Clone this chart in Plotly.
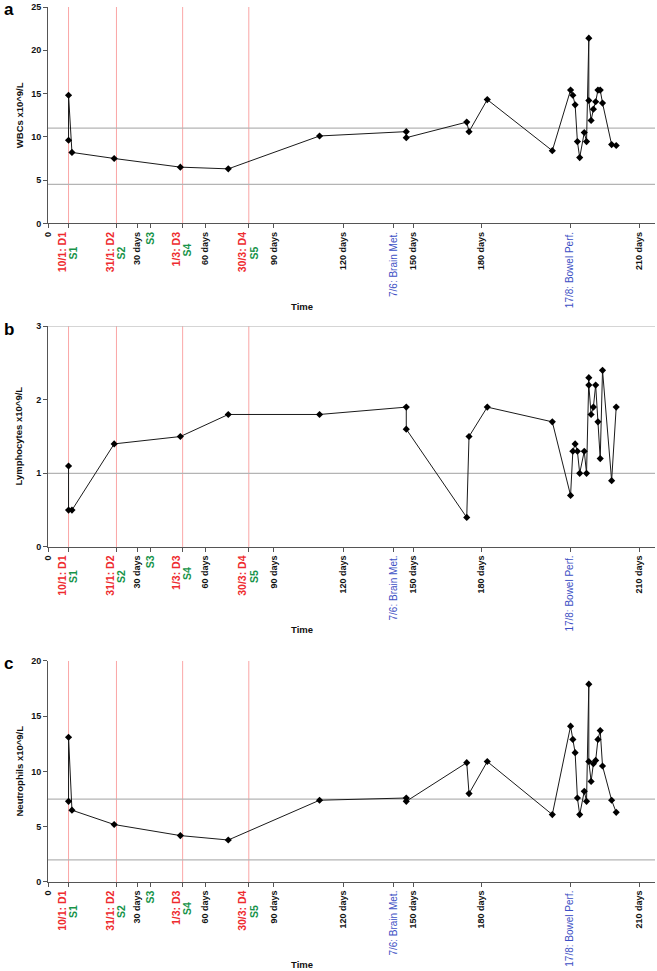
import plotly.graph_objects as go

# ---------------- data ----------------
DAYS = [9, 9, 10.5, 29, 58, 79, 119, 157, 157, 183.5, 184.5, 192.5, 221,
        229, 230, 231, 232, 233, 235, 236, 237, 237, 238, 239, 240, 241, 242, 243, 247, 249]
WBC = [9.6, 14.8, 8.2, 7.5, 6.5, 6.3, 10.1, 10.6, 9.9, 11.7, 10.6, 14.3, 8.4,
       15.4, 14.8, 13.7, 9.45, 7.6, 10.5, 9.45, 21.4, 14.2, 11.9, 13.2, 14.05, 15.4, 15.4, 13.9, 9.1, 9.0]
LYM = [1.1, 0.5, 0.5, 1.4, 1.5, 1.8, 1.8, 1.9, 1.6, 0.4, 1.5, 1.9, 1.7,
       0.7, 1.3, 1.4, 1.3, 1.0, 1.3, 1.0, 2.3, 2.2, 1.8, 1.9, 2.2, 1.7, 1.2, 2.4, 0.9, 1.9]
NEU = [7.3, 13.1, 6.5, 5.2, 4.2, 3.8, 7.4, 7.6, 7.3, 10.8, 8.0, 10.9, 6.1,
       14.1, 12.9, 11.7, 7.6, 6.1, 8.2, 7.3, 17.9, 10.9, 9.1, 10.7, 11.0, 12.9, 13.7, 10.5, 7.4, 6.3]

WBC_REF = [4.5, 11]
LYM_REF = [1, 3]
NEU_REF = [2, 7.5]

DOSE_DAYS = [9, 30, 59, 88]
DOSE_LABELS = ["10/1: D1", "31/1: D2", "1/3: D3", "30/3: D4"]
SCAN_DAYS = [9, 30, 45, 59, 88]
SCAN_LABELS = ["S1", "S2", "S3", "S4", "S5"]
DAYMARK_POS = [0, 39, 69, 99, 129.5, 160, 190, 259]
DAYMARK_LABELS = ["0", "30 days", "60 days", "90 days", "120 days", "150 days", "180 days", "210 days"]
EVENT_DAYS = [151.5, 229]
EVENT_LABELS = ["7/6: Brain Met.", "17/8: Bowel Perf."]

PANELS = ["a", "b", "c"]
YTITLES = ["WBCs x10^9/L", "Lymphocytes x10^9/L", "Neutrophils x10^9/L"]
YRANGES = [[0, 25], [0, 3], [0, 20]]
YTICKS = [[0, 5, 10, 15, 20, 25], [0, 1, 2, 3], [0, 5, 10, 15, 20]]

# ---------------- styling ----------------
FONT = "Liberation Sans, Arial, sans-serif"
RED = "#ee2b2f"
GREEN = "#17934a"
BLUE = "#3c4fc4"
W, H = 657, 971
ML, MR, MT, MB = 48, 2, 5, 89
DOMAINS = [[0.7527, 1.0], [0.3830, 0.6352], [0.0, 0.2526]]


def span(text, color, size, weight="bold"):
    return ('<span style="color:%s;font-size:%spx;font-weight:%s">%s</span>'
            % (color, size, weight, text))


# build tick label table
ticks = {}
for p, t in zip(DAYMARK_POS, DAYMARK_LABELS):
    ticks[p] = span(t, "#111", 9)
for p, t in zip(EVENT_DAYS, EVENT_LABELS):
    ticks[p] = span(t, BLUE, 10, "normal")
for p, t in zip(SCAN_DAYS, SCAN_LABELS):
    if p in DOSE_DAYS:
        d = DOSE_LABELS[DOSE_DAYS.index(p)]
        pad = "&nbsp;" * (5 if len(d) > 7 else 4)
        ticks[p] = span(d, RED, 10.5) + "<br>" + span(t + pad, GREEN, 10.5)
    else:
        ticks[p] = span(t, GREEN, 10.5)
tickvals = sorted(ticks)
ticktext = [ticks[v] for v in tickvals]

fig = go.Figure()
series = [WBC, LYM, NEU]
refs = [WBC_REF, LYM_REF, NEU_REF]
shapes = []
annotations = []
plot_h = H - MT - MB

for i in range(3):
    sfx = "" if i == 0 else str(i + 1)
    xa, ya = "x" + sfx, "y" + sfx
    fig.add_trace(go.Scatter(
        x=DAYS, y=series[i], xaxis=xa, yaxis=ya, mode="lines+markers",
        line=dict(color="#1a1a1a", width=1),
        marker=dict(symbol="diamond", size=5.5, color="#000"),
        showlegend=False, hoverinfo="skip"))
    for d in DOSE_DAYS:
        shapes.append(dict(type="line", xref=xa, yref=ya + " domain", x0=d, x1=d, y0=0, y1=1,
                           line=dict(color="rgba(245,90,90,0.6)", width=0.9), layer="below"))
    for r in refs[i]:
        shapes.append(dict(type="line", xref=xa + " domain", yref=ya, x0=0, x1=1, y0=r, y1=r,
                           line=dict(color="#b4b4b4", width=1.3), layer="below"))
    axis_x = dict(domain=[0, 1], anchor=ya, range=[0, 266], showgrid=False, zeroline=False,
                  showline=True, linecolor="#555", linewidth=1, ticks="outside", ticklen=4,
                  tickcolor="#555", tickvals=tickvals, ticktext=ticktext, tickangle=-90,
                  tickfont=dict(family=FONT, size=9, color="#111", weight="bold"))
    axis_y = dict(domain=DOMAINS[i], anchor=xa, range=YRANGES[i], tickvals=YTICKS[i],
                  showgrid=False, zeroline=False, showline=True, linecolor="#555",
                  linewidth=1, ticks="outside", ticklen=4, tickcolor="#555",
                  tickfont=dict(family=FONT, size=9, color="#111", weight="bold"))
    fig.layout["xaxis" + sfx] = axis_x
    fig.layout["yaxis" + sfx] = axis_y

    mid = (DOMAINS[i][0] + DOMAINS[i][1]) / 2
    # y title
    annotations.append(dict(text="<b>%s</b>" % YTITLES[i], xref="paper", yref="paper",
                            x=(19 - ML) / (W - ML - MR), y=mid, textangle=-90, showarrow=False,
                            xanchor="center", yanchor="middle",
                            font=dict(family=FONT, size=9.5, color="#111")))
    # panel letter
    annotations.append(dict(text="<b>%s</b>" % PANELS[i], xref="paper", yref="paper",
                            x=(2 - ML) / (W - ML - MR), y=DOMAINS[i][1] - (3 / plot_h),
                            showarrow=False, xanchor="left", yanchor="middle",
                            font=dict(family=FONT, size=17, color="#000")))
    # x title
    annotations.append(dict(text="<b>Time</b>", xref="paper", yref="paper",
                            x=(302 - ML) / (W - ML - MR),
                            y=DOMAINS[i][0] - (83 / plot_h),
                            showarrow=False, xanchor="center", yanchor="middle",
                            font=dict(family=FONT, size=9.5, color="#111")))

fig.update_layout(width=W, height=H, margin=dict(l=ML, r=MR, t=MT, b=MB),
                  paper_bgcolor="white", plot_bgcolor="white",
                  shapes=shapes, annotations=annotations,
                  font=dict(family=FONT))
fig.write_html("out.html", config={"displayModeBar": False},
               post_script="document.body.style.margin='0';document.body.style.overflow='hidden';")
